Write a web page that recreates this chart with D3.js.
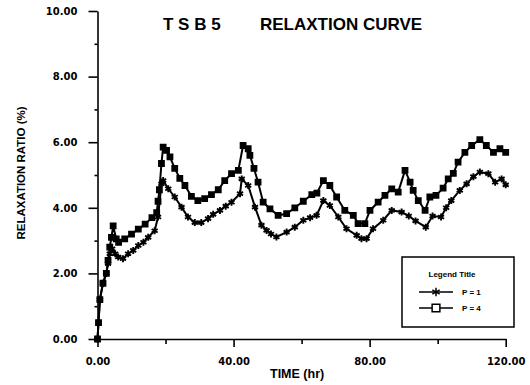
<!DOCTYPE html>
<html>
<head>
<meta charset="utf-8">
<script src="https://cdn.jsdelivr.net/npm/d3@7"></script>
<style>
  body { margin: 0; background: #fff; }
  svg { display: block; }
  .tick text { font-family: "DejaVu Sans", sans-serif; font-weight: bold; font-size: 10px; fill: #000; }
  .domain, .tick line { stroke: #000; stroke-width: 1.6; }
  .title, .axis-label { font-family: "Liberation Sans", Arial, sans-serif; font-weight: bold; fill: #000; }
  .legend text { font-family: "Liberation Sans", Arial, sans-serif; font-weight: bold; font-size: 8px; }
</style>
</head>
<body>
<div id="chart"></div>
<script>
// data (time in hr, relaxation ratio in %)
const timeP1 = [0, 0.3, 0.7, 1.6, 2.6, 3.1, 3.6, 4.3, 5.2, 6.1, 7.5, 9, 10.5, 12, 13.5, 14.9, 16.8, 17.8, 18.8, 19.3,
  20.8, 22.7, 24.7, 26.6, 28.6, 30.5, 32.5, 34, 36, 37.7, 39.4, 41.9, 42.4, 44.3, 46.3, 48.2, 49.7, 51, 52.6, 55.6,
  58, 60.5, 62.5, 64.4, 66.4, 68.3, 70.8, 73.2, 76.2, 77.6, 79.1, 81, 84, 86.5, 89.4, 91.5, 93.5, 96.5, 98.5, 101,
  102.5, 104, 106.5, 108.5, 110.5, 112.4, 114.9, 116.9, 118.8, 120]
const ratioP1 = [0, 0.5, 1.2, 1.7, 2.0, 2.3, 2.6, 2.75, 2.6, 2.5, 2.45, 2.6, 2.7, 2.85, 2.95, 3.1, 3.3, 3.72, 4.73, 4.83,
  4.58, 4.33, 4.02, 3.72, 3.55, 3.55, 3.67, 3.8, 3.92, 4.05, 4.17, 4.43, 4.88, 4.68, 4.02, 3.47, 3.31, 3.2, 3.11, 3.26,
  3.41, 3.62, 3.7, 3.77, 4.22, 4.07, 3.72, 3.36, 3.16, 3.06, 3.06, 3.36, 3.62, 3.92, 3.87, 3.75, 3.6, 3.41, 3.75, 3.72,
  4.0, 4.22, 4.53, 4.73, 4.95, 5.09, 5.04, 4.78, 4.88, 4.7]

const timeP4 = [0, 0.3, 0.7, 1.6, 2.6, 3.1, 3.6, 4.1, 4.6, 5.5, 6.2, 8, 10, 12, 14, 16, 17.4, 17.8, 18.2, 18.8,
  19.3, 20.3, 21.3, 22.7, 24.2, 25.7, 27.6, 29.5, 31.5, 33.5, 35.5, 37.4, 39.4, 41.4, 42.8, 44.3, 44.8, 46, 47.2, 48.7,
  50.7, 53.1, 55.6, 58, 60.5, 63, 64.5, 66.4, 68.3, 70.3, 72.7, 75.2, 76.6, 78.6, 80.1, 82.5, 84.5, 86.5, 88.4, 90.4,
  91.9, 92.8, 94.3, 96.3, 97.7, 99.5, 101.6, 103.1, 104.6, 106, 108, 110, 112.4, 114.3, 116.4, 118.3, 120]
const ratioP4 = [0, 0.5, 1.2, 1.7, 2.0, 2.4, 2.8, 3.1, 3.45, 3.05, 2.95, 3.05, 3.2, 3.35, 3.5, 3.7, 3.85, 4.2, 4.55, 5.35,
  5.85, 5.75, 5.55, 5.2, 4.9, 4.68, 4.35, 4.22, 4.28, 4.4, 4.55, 4.83, 5.04, 5.14, 5.9, 5.8, 5.6, 5.2, 4.78, 4.17,
  3.97, 3.77, 3.82, 4.0, 4.2, 4.4, 4.45, 4.83, 4.68, 4.33, 3.92, 3.77, 3.52, 3.52, 3.92, 4.17, 4.38, 4.58, 4.48, 5.14,
  4.78, 4.53, 4.22, 3.92, 4.33, 4.38, 4.6, 4.88, 5.05, 5.39, 5.69, 5.9, 6.08, 5.9, 5.69, 5.8, 5.69]

const xMajor = [0, 40, 80, 120]
const xMinor = [20, 60, 100]
const yMajor = [0, 2, 4, 6, 8, 10]
const yMinor = [1, 3, 5, 7, 9]
const legendLabels = ["P = 1", "P = 4"]

var width = 530,
    height = 385

const svg = d3.select("#chart")
  .append("svg")
    .attr("width", width)
    .attr("height", height)

// scales
const x = d3.scaleLinear().domain([0, 120]).range([97.5, 505.7])
const y = d3.scaleLinear().domain([0, 10]).range([339, 11])

// axes
svg.append("g")
    .attr("transform", `translate(0,${y(0)})`)
    .call(d3.axisBottom(x).tickValues(xMinor).tickSize(5).tickFormat(""))
    .call(g => g.select(".domain").remove())
svg.append("g")
    .attr("transform", `translate(0,${y(0)})`)
    .call(d3.axisBottom(x).tickValues(xMajor).tickSize(8).tickSizeOuter(0).tickPadding(11).tickFormat(d3.format(".2f")))

svg.append("g")
    .attr("transform", `translate(${x(0)},0)`)
    .call(d3.axisLeft(y).tickValues(yMinor).tickSize(3).tickFormat(""))
    .call(g => g.select(".domain").remove())
svg.append("g")
    .attr("transform", `translate(${x(0)},0)`)
    .call(d3.axisLeft(y).tickValues(yMajor).tickSize(9).tickSizeOuter(0).tickPadding(11).tickFormat(d3.format(".2f")))

// lines
const series = [
  { key: "P1", t: timeP1, v: ratioP1, symbol: d3.symbolAsterisk, size: 34, fill: "none" },
  { key: "P4", t: timeP4, v: ratioP4, symbol: d3.symbolSquare, size: 24, fill: "#000" }
]

const line = d3.line()
    .x(d => x(d[0]))
    .y(d => y(d[1]))

series.forEach(function(s) {
  const pts = s.t.map((t, i) => [t, s.v[i]])
  svg.append("path")
      .datum(pts)
      .attr("fill", "none")
      .attr("stroke", "#000")
      .attr("stroke-width", 2)
      .attr("d", line)
  svg.append("g")
    .selectAll("path")
    .data(pts)
    .join("path")
      .attr("transform", d => `translate(${x(d[0])},${y(d[1])})`)
      .attr("d", d3.symbol().type(s.symbol).size(s.size))
      .attr("fill", s.fill)
      .attr("stroke", "#000")
      .attr("stroke-width", 1.9)
})

// title
svg.append("text")
    .attr("class", "title")
    .attr("x", 163)
    .attr("y", 30)
    .attr("font-size", 17)
    .text("T S B 5")
svg.append("text")
    .attr("class", "title")
    .attr("x", 260)
    .attr("y", 30)
    .attr("font-size", 17)
    .text("RELAXTION CURVE")

// axis labels
svg.append("text")
    .attr("class", "axis-label")
    .attr("x", 270)
    .attr("y", 378)
    .attr("font-size", 12.5)
    .text("TIME (hr)")
svg.append("text")
    .attr("class", "axis-label")
    .attr("transform", "translate(25,173) rotate(-90)")
    .attr("text-anchor", "middle")
    .attr("font-size", 11.5)
    .text("RELAXATION RATIO (%)")

// legend
const legend = svg.append("g")
    .attr("class", "legend")
    .attr("transform", "translate(402,257)")
legend.append("rect")
    .attr("width", 112)
    .attr("height", 70)
    .attr("fill", "#fff")
    .attr("stroke", "#000")
    .attr("stroke-width", 1.5)
legend.append("text")
    .attr("x", 50)
    .attr("y", 20)
    .attr("text-anchor", "middle")
    .attr("font-size", 7)
    .text("Legend Title")

legendLabels.forEach(function(lab, i) {
  const row = legend.append("g").attr("transform", `translate(0,${35 + i * 16})`)
  row.append("line")
      .attr("x1", 17).attr("x2", 51)
      .attr("stroke", "#000").attr("stroke-width", 1.5)
  row.append("path")
      .attr("transform", "translate(34,0)")
      .attr("d", d3.symbol().type(series[i].symbol).size(i ? 60 : 50))
      .attr("fill", i ? "#fff" : "none")
      .attr("stroke", "#000")
      .attr("stroke-width", 1.5)
  row.append("text")
      .attr("x", 60)
      .attr("y", 3)
      .text(lab)
})
</script>
</body>
</html>
